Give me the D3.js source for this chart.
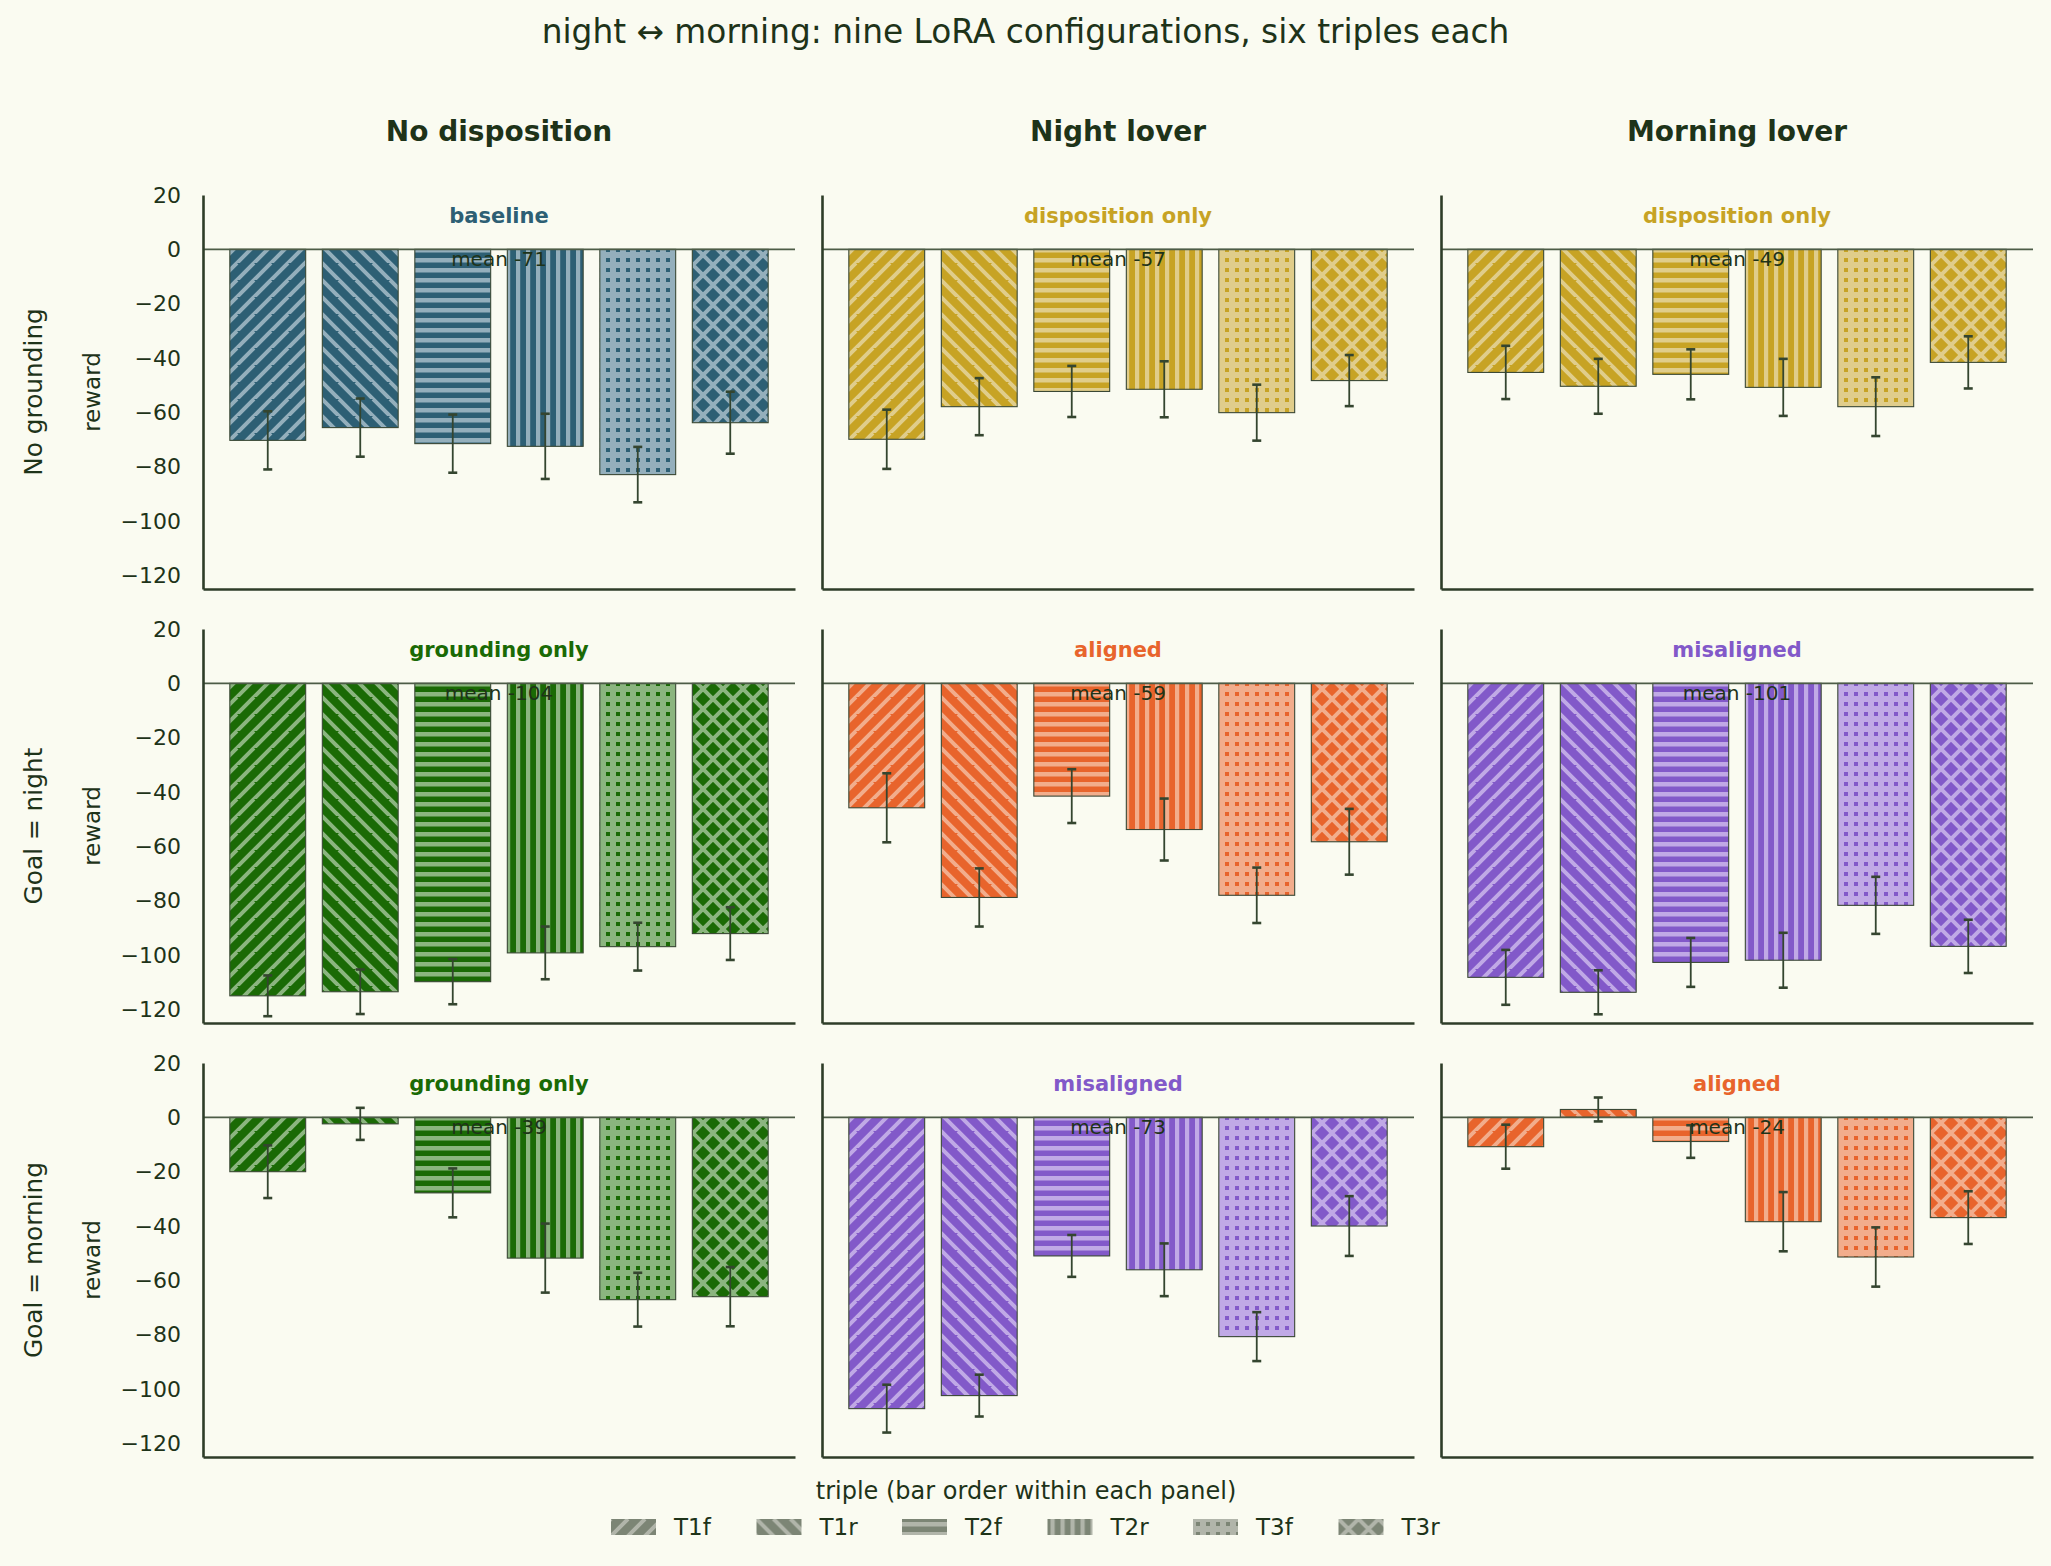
<!DOCTYPE html>
<html>
<head>
 <meta charset="UTF-8">
 <title>night ↔ morning: nine LoRA configurations</title>
 <script src="https://d3js.org/d3.v7.min.js"></script>
 <style>
  body { margin: 0; background: #fafbf1; }
  text { font-family: "DejaVu Sans", sans-serif; fill: #1e3319; }
 </style>
</head>
<body>
<script type="text/javascript">
// bar order inside every panel
var triples = ["T1f", "T1r", "T2f", "T2r", "T3f", "T3r"];
var dispositions = ["No disposition", "Night lover", "Morning lover"];
var goals = ["No grounding", "Goal = night", "Goal = morning"];

// configuration shown in each panel, row by row
var configRow0 = ["baseline", "disposition only", "disposition only"];
var configRow1 = ["grounding only", "aligned", "misaligned"];
var configRow2 = ["grounding only", "misaligned", "aligned"];

// mean reward per triple
var noGroundNoDisp   = [-70.3, -65.6, -71.5, -72.5, -82.9, -63.8];
var noGroundNight    = [-69.9, -57.9, -52.3, -51.5, -60.1, -48.3];
var noGroundMorning  = [-45.3, -50.4, -46.0, -50.8, -57.9, -41.6];
var goalNightNoDisp  = [-115.0, -113.5, -109.8, -99.2, -96.9, -92.1];
var goalNightNight   = [-45.8, -78.8, -41.5, -53.8, -78.0, -58.3];
var goalNightMorning = [-108.2, -113.7, -102.7, -101.9, -81.7, -96.8];
var goalMornNoDisp   = [-20.0, -2.4, -27.8, -51.8, -67.1, -66.0];
var goalMornNight    = [-107.2, -102.4, -51.0, -56.1, -80.7, -40.0];
var goalMornMorning  = [-10.8, 2.9, -8.9, -38.4, -51.4, -36.9];

// error bar half-widths
var errNoGroundNoDisp   = [10.7, 10.7, 10.7, 12.0, 10.2, 11.4];
var errNoGroundNight    = [10.9, 10.5, 9.4, 10.3, 10.3, 9.4];
var errNoGroundMorning  = [9.8, 10.1, 9.2, 10.5, 10.8, 9.6];
var errGoalNightNoDisp  = [7.5, 8.2, 8.3, 9.7, 8.8, 9.7];
var errGoalNightNight   = [12.7, 10.7, 9.9, 11.4, 10.2, 12.1];
var errGoalNightMorning = [10.1, 8.1, 9.0, 10.1, 10.5, 9.8];
var errGoalMornNoDisp   = [9.7, 5.9, 9.0, 12.7, 9.9, 10.9];
var errGoalMornNight    = [8.8, 7.7, 7.7, 9.7, 9.0, 11.0];
var errGoalMornMorning  = [8.1, 4.4, 6.0, 10.9, 10.9, 9.7];

var yTicks = [20, 0, -20, -40, -60, -80, -100, -120];

var palette = {
  "baseline":         ["#2d5f74", "#94afbc"],
  "disposition only": ["#c7a324", "#e0cd8b"],
  "grounding only":   ["#1a6a05", "#8bb57f"],
  "aligned":          ["#e8642c", "#f2ad8c"],
  "misaligned":       ["#8259c9", "#c0a9e6"],
  "legend":           ["#7c8575", "#b1b5aa"]
};

var configs = [configRow0, configRow1, configRow2];
var rewards = [
  [noGroundNoDisp, noGroundNight, noGroundMorning],
  [goalNightNoDisp, goalNightNight, goalNightMorning],
  [goalMornNoDisp, goalMornNight, goalMornMorning]
];
var errors = [
  [errNoGroundNoDisp, errNoGroundNight, errNoGroundMorning],
  [errGoalNightNoDisp, errGoalNightNight, errGoalNightMorning],
  [errGoalMornNoDisp, errGoalMornNight, errGoalMornMorning]
];

var width = 2051;
var height = 1566;
var panelW = 592;
var panelH = 394;
var ink = "#2e3d28";

var svg = d3.select('body').append('svg')
      .attr('width', width)
      .attr('height', height);

svg.append('rect')
  .attr('width', width)
  .attr('height', height)
  .attr('fill', '#fafbf1');

var defs = svg.append('defs');

function addPattern(id, hatch, base, light) {
  var s = (hatch == "T1f" || hatch == "T1r") ? 17 : (hatch == "T3r" ? 20 : 10);
  var p = defs.append('pattern')
        .attr('id', id)
        .attr('patternUnits', 'userSpaceOnUse')
        .attr('width', s)
        .attr('height', s);
  if (hatch == "T3f") {
    p.append('rect').attr('width', s).attr('height', s).attr('fill', light);
    p.append('rect').attr('x', 3).attr('y', 3).attr('width', 4).attr('height', 4).attr('fill', base);
    return;
  }
  p.append('rect').attr('width', s).attr('height', s).attr('fill', base);
  if (hatch == "T2f") {
    p.append('rect').attr('y', 3).attr('width', s).attr('height', 4.5).attr('fill', light);
  } else if (hatch == "T2r") {
    p.append('rect').attr('x', 3).attr('width', 4.2).attr('height', s).attr('fill', light);
  } else {
    var d = "";
    var k;
    if (hatch == "T1f" || hatch == "T3r") {
      for (k = -1; k <= 2; k++) d += "M" + (k * s - s) + "," + (2 * s) + "L" + (k * s + s) + ",0 ";
    }
    if (hatch == "T1r" || hatch == "T3r") {
      for (k = -1; k <= 2; k++) d += "M" + (k * s - s) + ",0L" + (k * s + s) + "," + (2 * s) + " ";
    }
    p.append('path')
      .attr('d', d)
      .attr('stroke', light)
      .attr('stroke-width', 4)
      .attr('fill', 'none');
  }
}

Object.keys(palette).forEach(function (name) {
  triples.forEach(function (t) {
    addPattern(name.replace(/ /g, '_') + '_' + t, t, palette[name][0], palette[name][1]);
  });
});

var x = d3.scaleLinear().domain([-0.7, 5.7]).range([0, panelW]);
var y = d3.scaleLinear().domain([-125, 20]).range([panelH, 0]);
var barW = x(0.82) - x(0);

// suptitle
svg.append('text')
  .attr('x', width / 2)
  .attr('y', 32)
  .attr('text-anchor', 'middle')
  .attr('dominant-baseline', 'central')
  .style('font-size', '32.8px')
  .text("night ↔ morning: nine LoRA configurations, six triples each");

function drawPanel(r, c) {
  var panelLeft = 203 + c * 619;
  var panelTop = 195 + r * 434;
  var g = svg.append('g').attr('transform', 'translate(' + panelLeft + ',' + panelTop + ')');
  var cfg = configs[r][c];
  var vals = rewards[r][c];
  var errs = errors[r][c];
  var col = palette[cfg][0];

  if (r == 0) {
    svg.append('text')
      .attr('x', panelLeft + panelW / 2)
      .attr('y', 131)
      .attr('text-anchor', 'middle')
      .attr('dominant-baseline', 'central')
      .style('font-size', '28px')
      .style('font-weight', 'bold')
      .text(dispositions[c]);
  }
  if (c == 0) {
    svg.append('text')
      .attr('transform', 'translate(33,' + (panelTop + panelH / 2) + ') rotate(-90)')
      .attr('text-anchor', 'middle')
      .attr('dominant-baseline', 'central')
      .style('font-size', '24.8px')
      .text(goals[r]);
    svg.append('text')
      .attr('transform', 'translate(92,' + (panelTop + panelH / 2) + ') rotate(-90)')
      .attr('text-anchor', 'middle')
      .attr('dominant-baseline', 'central')
      .style('font-size', '23px')
      .text("reward");
  }

  // bars
  g.selectAll('rect.bar')
    .data(vals)
    .enter()
    .append('rect')
    .attr('class', 'bar')
    .attr('x', function (d, i) { return x(i) - barW / 2; })
    .attr('y', function (d) { return y(Math.max(0, d)); })
    .attr('width', barW)
    .attr('height', function (d) { return Math.abs(y(d) - y(0)); })
    .attr('fill', function (d, i) { return 'url(#' + cfg.replace(/ /g, '_') + '_' + triples[i] + ')'; })
    .attr('stroke', '#3a4835')
    .attr('stroke-width', 1.1);

  // zero line
  g.append('line')
    .attr('x1', 0).attr('x2', panelW)
    .attr('y1', y(0)).attr('y2', y(0))
    .attr('stroke', '#4d5c47')
    .attr('stroke-width', 1.6);

  // error bars
  var eb = g.selectAll('g.err')
    .data(vals)
    .enter()
    .append('g')
    .attr('class', 'err')
    .attr('stroke', '#34452f')
    .attr('stroke-width', 1.8);
  eb.append('line')
    .attr('x1', function (d, i) { return x(i); })
    .attr('x2', function (d, i) { return x(i); })
    .attr('y1', function (d, i) { return y(d + errs[i]); })
    .attr('y2', function (d, i) { return y(d - errs[i]); });
  [1, -1].forEach(function (sgn) {
    eb.append('line')
      .attr('x1', function (d, i) { return x(i) - 4.5; })
      .attr('x2', function (d, i) { return x(i) + 4.5; })
      .attr('y1', function (d, i) { return y(d + sgn * errs[i]); })
      .attr('y2', function (d, i) { return y(d + sgn * errs[i]); })
      .attr('stroke-width', 2.6);
  });

  // axes
  var ya = d3.axisLeft(y).tickValues(yTicks).tickSize(0).tickPadding(22);
  if (c > 0) ya.tickFormat('');
  var yg = g.append('g').call(ya);
  yg.select('.domain').attr('stroke', ink).attr('stroke-width', 2.6);
  yg.selectAll('text').style('font-size', '22px').style('font-family', '"DejaVu Sans", sans-serif').attr('fill', '#1e3319');
  var xg = g.append('g')
    .attr('transform', 'translate(0,' + panelH + ')')
    .call(d3.axisBottom(x).tickValues([]).tickSizeOuter(0));
  xg.select('.domain').attr('stroke', ink).attr('stroke-width', 2.6);

  // panel labels
  g.append('text')
    .attr('x', panelW / 2)
    .attr('y', 21)
    .attr('text-anchor', 'middle')
    .attr('dominant-baseline', 'central')
    .style('font-size', '21px')
    .style('font-weight', 'bold')
    .style('fill', col)
    .text(cfg);
  g.append('text')
    .attr('x', panelW / 2)
    .attr('y', y(0) + 10)
    .attr('text-anchor', 'middle')
    .attr('dominant-baseline', 'central')
    .style('font-size', '20px')
    .text("mean " + Math.round(d3.mean(vals)));
}

for (var r = 0; r < 3; r++) {
  for (var c = 0; c < 3; c++) {
    drawPanel(r, c);
  }
}

// legend
svg.append('text')
  .attr('x', 1026)
  .attr('y', 1491)
  .attr('text-anchor', 'middle')
  .attr('dominant-baseline', 'central')
  .style('font-size', '24px')
  .text("triple (bar order within each panel)");

var lg = svg.selectAll('g.leg')
  .data(triples)
  .enter()
  .append('g')
  .attr('class', 'leg')
  .attr('transform', function (d, i) { return 'translate(' + (611 + i * 145.5) + ',1519)'; });
lg.append('rect')
  .attr('width', 45)
  .attr('height', 16)
  .attr('fill', function (d) { return 'url(#legend_' + d + ')'; });
lg.append('text')
  .attr('x', 63)
  .attr('y', 8)
  .attr('dominant-baseline', 'central')
  .style('font-size', '23px')
  .text(function (d) { return d; });
</script>
</body>
</html>
